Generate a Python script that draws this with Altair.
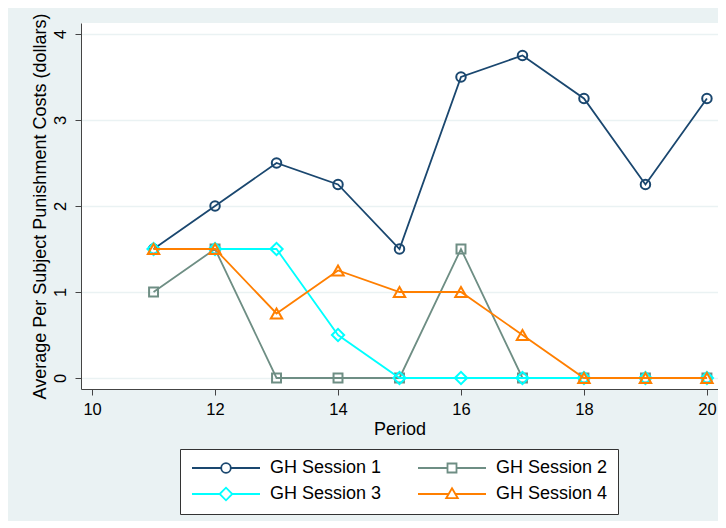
import altair as alt
import pandas as pd

periods = list(range(11, 21))
session_names = ["GH Session 1", "GH Session 2", "GH Session 3", "GH Session 4"]
s1 = [1.5, 2.0, 2.5, 2.25, 1.5, 3.5, 3.75, 3.25, 2.25, 3.25]
s2 = [1.0, 1.5, 0.0, 0.0, 0.0, 1.5, 0.0, 0.0, 0.0, 0.0]
s3 = [1.5, 1.5, 1.5, 0.5, 0.0, 0.0, 0.0, 0.0, 0.0, 0.0]
s4 = [1.5, 1.5, 0.75, 1.25, 1.0, 1.0, 0.5, 0.0, 0.0, 0.0]
x_ticks = [10, 12, 14, 16, 18, 20]
y_ticks = [0, 1, 2, 3, 4]

colors = ["#1A476F", "#6E8E84", "#00FFFF", "#FF7F00"]
shapes = ["circle", "square", "diamond", "triangle-up"]
sizes = [90, 80, 150, 130]
# legend keys: a line with a hollow marker in the middle (unit = 7 px)
legend_paths = [
    "M-1,0L3.171,0M4.543,0L8.714,0M3.171,0A0.686,0.686,0,1,1,4.543,0A0.686,0.686,0,1,1,3.171,0Z",
    "M-1,0L3.214,0M4.5,0L8.714,0M3.214,-0.643L4.5,-0.643L4.5,0.643L3.214,0.643Z",
    "M-1,0L2.957,0M4.757,0L8.714,0M2.957,0L3.857,-0.9L4.757,0L3.857,0.9Z",
    "M-1,0L3.377,0M4.337,0L8.714,0M3.857,-0.83L4.687,0.6L3.027,0.6Z",
]

rows = []
for name, vals in zip(session_names, [s1, s2, s3, s4]):
    for p, v in zip(periods, vals):
        rows.append({"period": p, "value": v, "session": name})
df = pd.DataFrame(rows)

FONT = "Liberation Sans"

x_enc = alt.X(
    "period:Q",
    scale=alt.Scale(domain=[9.82, 20.18], nice=False, zero=False),
    axis=alt.Axis(
        values=x_ticks, format="d", title="Period", grid=False,
        tickSize=6, labelPadding=6, labelFontSize=16.5, labelAngle=0,
        titleFontSize=18, titleFontWeight="normal",
        titleBaseline="alphabetic", titleY=45,
        domainColor="#444444", tickColor="#444444",
        labelColor="black", titleColor="black",
    ),
)
y_enc = alt.Y(
    "value:Q",
    scale=alt.Scale(domain=[-0.128, 4.128], nice=False, zero=False),
    axis=alt.Axis(
        values=y_ticks, format="d",
        title="Average Per Subject Punishment Costs (dollars)",
        grid=True, gridColor="#EAF2F3", gridWidth=1.5,
        tickSize=6, labelAngle=270, labelAlign="center",
        labelBaseline="alphabetic", labelPadding=10, labelFontSize=16.5,
        titleFontSize=18, titleFontWeight="normal",
        titleAngle=270, titleAlign="center", titleBaseline="alphabetic",
        titleX=-36, titleY=183,
        domainColor="#444444", tickColor="#444444",
        labelColor="black", titleColor="black",
    ),
)

base = alt.Chart(df)
layers = []
for name, color, shape, size in zip(session_names, colors, shapes, sizes):
    sub = base.transform_filter(alt.datum.session == name)
    layers.append(sub.mark_line(color=color, strokeWidth=1.8).encode(x=x_enc, y=y_enc))
    layers.append(
        sub.mark_point(color=color, shape=shape, size=size, filled=False,
                       strokeWidth=2, opacity=1).encode(x=x_enc, y=y_enc)
    )

legend_cfg = dict(
    title=None, orient="none", legendX=99, legendY=426, columns=2,
    direction="horizontal",
    labelFontSize=18, labelColor="black", labelOffset=62,
    symbolSize=196, symbolStrokeWidth=1.8, symbolOpacity=1,
    padding=10, rowPadding=7, columnPadding=32,
    fillColor="white", strokeColor="#333333",
)

legend_layer = base.mark_point(opacity=0, filled=False).encode(
    x=x_enc,
    y=y_enc,
    color=alt.Color(
        "session:N",
        scale=alt.Scale(domain=session_names, range=colors),
        legend=alt.Legend(**legend_cfg),
    ),
    shape=alt.Shape(
        "session:N",
        scale=alt.Scale(domain=session_names, range=legend_paths),
        legend=alt.Legend(**legend_cfg),
    ),
)

chart = (
    alt.layer(*layers, legend_layer)
    .properties(
        width=637, height=366,
        autosize=alt.AutoSizeParams(type="none"),
        padding={"left": 73, "top": 15, "right": 0, "bottom": 132},
        background="#EAF2F3",
    )
    .configure(font=FONT)
    .configure_view(fill="white", stroke=None)
)

chart.save("out.html", embed_options={"renderer": "svg", "actions": False})
